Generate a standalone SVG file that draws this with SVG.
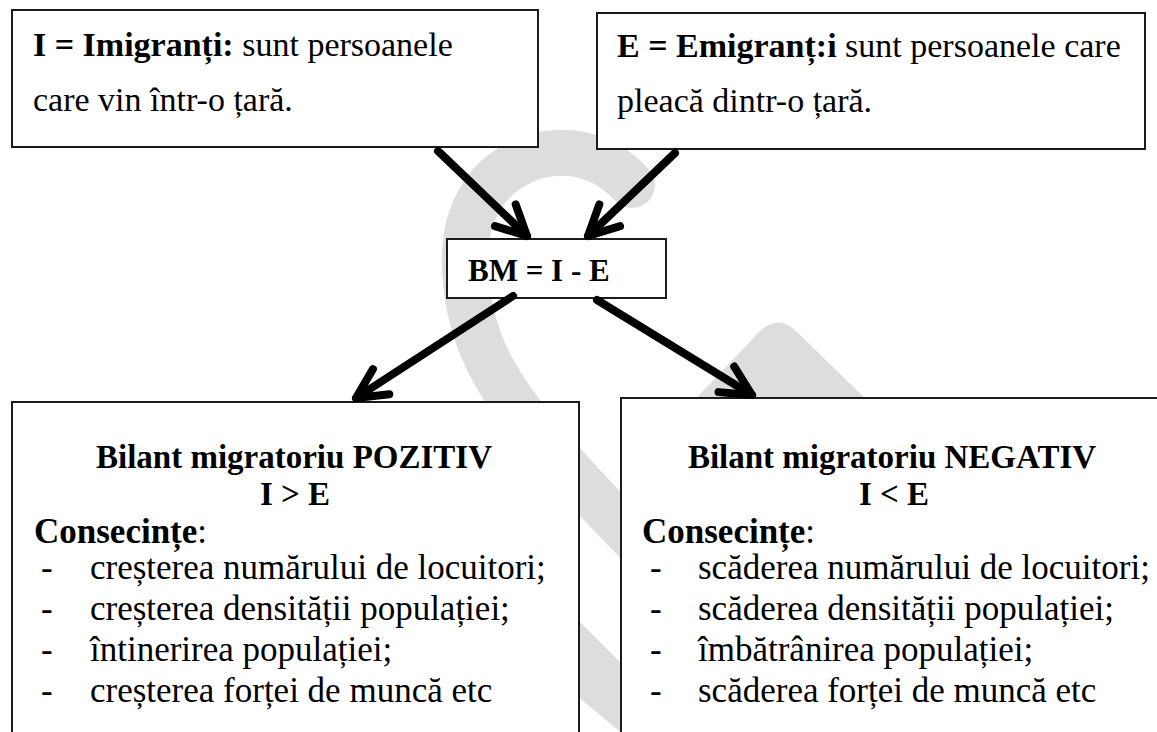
<svg xmlns="http://www.w3.org/2000/svg" width="1157" height="732" viewBox="0 0 1157 732">
<style>
.box{fill:#fff;stroke:#1a1a1a;stroke-width:2}
.t{font-family:"Liberation Serif","DejaVu Serif",serif;font-size:35px;fill:#000}
.top{font-size:34px}
.h{font-size:33px;font-weight:bold}
.bm{font-size:31px;font-weight:bold}
.b{font-weight:bold}
.wm{fill:#dddddd;stroke:none}
.con{stroke:#000;stroke-width:8;stroke-linecap:round;fill:none}
</style>
<defs>
<marker id="ah" markerUnits="userSpaceOnUse" markerWidth="60" markerHeight="60" refX="0" refY="0" viewBox="-40 -30 60 60" orient="auto" overflow="visible">
<path d="M-30,-15 L0,0 L-30,15" fill="none" stroke="#000" stroke-width="8" stroke-linecap="round" stroke-linejoin="round"/>
</marker>
</defs>
<rect width="1157" height="732" fill="#fff"/>
<g id="watermark">
<path d="M632,185 C600,150 560,148 530,158 C485,175 462,215 465,270 C468,330 490,370 515,405 C545,445 580,485 660,565" fill="none" stroke="#dddddd" stroke-width="46" stroke-linecap="round"/>
<path class="wm" d="M690,405 L758,333 Q778,312 798,333 L872,405 Z"/>
<path class="wm" d="M570,612 L630,672 L630,740 L570,690 Z"/>
</g>
<g id="node-imigranti">
<rect class="box" x="12" y="10" width="526" height="137"/>
<text class="t top" x="33" y="56"><tspan class="b">I = Imigranți:</tspan> sunt persoanele</text>
<text class="t top" x="33" y="111">care vin într-o țară.</text>
</g>
<g id="node-emigranti">
<rect class="box" x="597" y="13" width="548" height="136"/>
<text class="t top" x="617" y="57"><tspan class="b">E = Emigranț:i</tspan> sunt persoanele care</text>
<text class="t top" x="617" y="112">pleacă dintr-o țară.</text>
</g>
<g id="node-bm">
<rect class="box" x="447" y="239" width="219" height="59"/>
<text class="t bm" x="468" y="281">BM = I - E</text>
</g>
<g id="node-pozitiv">
<rect class="box" x="12" y="402" width="567" height="345"/>
<text class="t h" x="294" y="468" text-anchor="middle">Bilant migratoriu POZITIV</text>
<text class="t h" x="295" y="505" text-anchor="middle">I &gt; E</text>
<text class="t" x="34" y="543"><tspan class="b">Consecințe</tspan>:</text>
<text class="t" x="41" y="579">-</text>
<text class="t" x="90" y="579">creșterea numărului de locuitori;</text>
<text class="t" x="41" y="620">-</text>
<text class="t" x="90" y="620">creșterea densității populației;</text>
<text class="t" x="41" y="661">-</text>
<text class="t" x="90" y="661">întinerirea populației;</text>
<text class="t" x="41" y="702">-</text>
<text class="t" x="90" y="702">creșterea forței de muncă etc</text>
</g>
<g id="node-negativ">
<rect class="box" x="621" y="398" width="546" height="349"/>
<text class="t h" x="892" y="468" text-anchor="middle">Bilant migratoriu NEGATIV</text>
<text class="t h" x="894" y="505" text-anchor="middle">I &lt; E</text>
<text class="t" x="642" y="543"><tspan class="b">Consecințe</tspan>:</text>
<text class="t" x="650" y="579">-</text>
<text class="t" x="698" y="579">scăderea numărului de locuitori;</text>
<text class="t" x="650" y="620">-</text>
<text class="t" x="698" y="620">scăderea densității populației;</text>
<text class="t" x="650" y="661">-</text>
<text class="t" x="698" y="661">îmbătrânirea populației;</text>
<text class="t" x="650" y="702">-</text>
<text class="t" x="698" y="702">scăderea forței de muncă etc</text>
</g>
<g id="connectors">
<line class="con" x1="438" y1="151" x2="527" y2="236" marker-end="url(#ah)"/>
<line class="con" x1="675" y1="153" x2="588" y2="236" marker-end="url(#ah)"/>
<line class="con" x1="513" y1="296" x2="356" y2="398" marker-end="url(#ah)"/>
<line class="con" x1="597" y1="300" x2="752" y2="395" marker-end="url(#ah)"/>
</g>
</svg>
